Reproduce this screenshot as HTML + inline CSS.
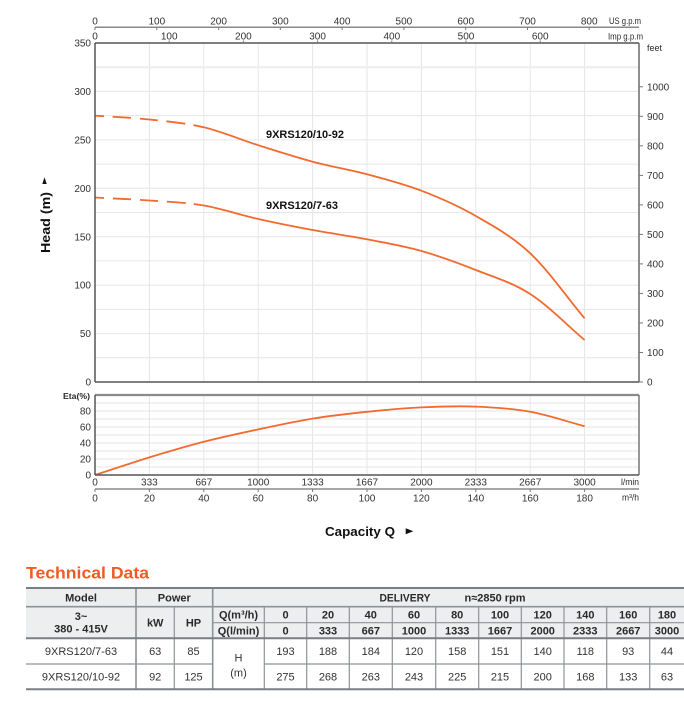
<!DOCTYPE html>
<html><head><meta charset="utf-8">
<style>
html,body{margin:0;padding:0;background:#fff;width:684px;height:718px;overflow:hidden}
svg{display:block}
text{font-family:"Liberation Sans",sans-serif;fill:#2a2a2a}
.t{font-size:10px;fill:#333}
.b{font-weight:bold}
</style></head><body>
<svg width="684" height="718" viewBox="0 0 684 718" xmlns="http://www.w3.org/2000/svg">
<!-- main grid -->
<g stroke="#e6e6e6" stroke-width="1">
<line x1="149.4" y1="43" x2="149.4" y2="382"/><line x1="203.8" y1="43" x2="203.8" y2="382"/><line x1="258.2" y1="43" x2="258.2" y2="382"/><line x1="312.6" y1="43" x2="312.6" y2="382"/><line x1="367" y1="43" x2="367" y2="382"/><line x1="421.4" y1="43" x2="421.4" y2="382"/><line x1="475.8" y1="43" x2="475.8" y2="382"/><line x1="530.2" y1="43" x2="530.2" y2="382"/><line x1="584.6" y1="43" x2="584.6" y2="382"/>
<line x1="95" y1="357.8" x2="639" y2="357.8"/><line x1="95" y1="333.6" x2="639" y2="333.6"/><line x1="95" y1="309.4" x2="639" y2="309.4"/><line x1="95" y1="285.1" x2="639" y2="285.1"/><line x1="95" y1="260.9" x2="639" y2="260.9"/><line x1="95" y1="236.7" x2="639" y2="236.7"/><line x1="95" y1="212.5" x2="639" y2="212.5"/><line x1="95" y1="188.3" x2="639" y2="188.3"/><line x1="95" y1="164.1" x2="639" y2="164.1"/><line x1="95" y1="139.9" x2="639" y2="139.9"/><line x1="95" y1="115.6" x2="639" y2="115.6"/><line x1="95" y1="91.4" x2="639" y2="91.4"/><line x1="95" y1="67.2" x2="639" y2="67.2" stroke="#eeeeee" stroke-width="2"/>
</g>
<!-- eta grid -->
<g stroke="#e6e6e6" stroke-width="1">
<line x1="149.4" y1="395" x2="149.4" y2="475"/><line x1="203.8" y1="395" x2="203.8" y2="475"/><line x1="258.2" y1="395" x2="258.2" y2="475"/><line x1="312.6" y1="395" x2="312.6" y2="475"/><line x1="367" y1="395" x2="367" y2="475"/><line x1="421.4" y1="395" x2="421.4" y2="475"/><line x1="475.8" y1="395" x2="475.8" y2="475"/><line x1="530.2" y1="395" x2="530.2" y2="475"/><line x1="584.6" y1="395" x2="584.6" y2="475"/>
<line x1="95" y1="467" x2="639" y2="467"/><line x1="95" y1="459" x2="639" y2="459"/><line x1="95" y1="451" x2="639" y2="451"/><line x1="95" y1="443" x2="639" y2="443"/><line x1="95" y1="435" x2="639" y2="435"/><line x1="95" y1="427" x2="639" y2="427"/><line x1="95" y1="419" x2="639" y2="419"/><line x1="95" y1="411" x2="639" y2="411"/><line x1="95" y1="403" x2="639" y2="403"/>
</g>
<!-- curves -->
<g fill="none" stroke="#f26a2e" stroke-width="1.8">
<path stroke-dasharray="9 8.7 18.3 9 18 8.7 19 8.3 3000" d="M95,115.6 C113.13,116.9 131.27,117.55 149.4,119.5 C167.53,121.45 185.67,123.02 203.8,127.3 C221.93,131.58 240.07,139.47 258.2,145.2 C276.33,150.93 294.47,156.85 312.6,161.7 C330.73,166.55 348.87,169.47 367,174.3 C385.13,179.13 403.27,183.75 421.4,190.7 C439.53,197.65 457.67,205.57 475.8,216 C493.93,226.43 512.07,236.25 530.2,253.3 C548.33,270.35 566.47,296.63 584.6,318.3"/>
<path stroke-dasharray="9 9 18 9 18 9 19 8 3000" d="M95,197.5 C113.13,198.5 131.27,199.17 149.4,200.5 C167.53,201.83 185.67,202.42 203.8,205.5 C221.93,208.58 240.07,214.92 258.2,219 C276.33,223.08 294.47,226.62 312.6,230 C330.73,233.38 348.87,235.8 367,239.3 C385.13,242.8 403.27,245.88 421.4,251 C439.53,256.12 457.67,262.83 475.8,270 C493.93,277.17 512.07,282.33 530.2,294 C548.33,305.67 566.47,324.67 584.6,340"/>
<path d="M95,475 C113.13,469.13 131.27,462.93 149.4,457.4 C167.53,451.87 185.67,446.47 203.8,441.8 C221.93,437.13 240.07,433.27 258.2,429.4 C276.33,425.53 294.47,421.53 312.6,418.6 C330.73,415.67 348.87,413.67 367,411.8 C385.13,409.93 403.27,408.27 421.4,407.4 C439.53,406.53 457.67,405.87 475.8,406.6 C493.93,407.33 512.07,408.53 530.2,411.8 C548.33,415.07 566.47,421.4 584.6,426.2"/>
</g>
<!-- main axes -->
<g stroke="#8a8a8a" stroke-width="1.5" fill="none">
<line x1="95" y1="27.3" x2="639" y2="27.3"/>
<line x1="95" y1="43" x2="639" y2="43" stroke="#555"/>
<line x1="95" y1="43" x2="95" y2="382" stroke="#555"/>
<line x1="639" y1="43" x2="639" y2="382" stroke="#6a6a6a"/>
<line x1="95" y1="382" x2="639" y2="382" stroke="#555"/>
<line x1="95" y1="395" x2="639" y2="395" stroke="#8a8a8a" stroke-width="2.2"/>
<line x1="95" y1="395" x2="95" y2="475" stroke="#555"/>
<line x1="639" y1="395" x2="639" y2="475" stroke="#777"/>
<line x1="95" y1="475" x2="639" y2="475" stroke="#555"/>
<line x1="95" y1="489" x2="639" y2="489" stroke="#8a8a8a"/>
</g>
<g stroke="#777" stroke-width="1">
<line x1="95" y1="27" x2="95" y2="30"/><line x1="156.8" y1="27" x2="156.8" y2="30"/><line x1="218.6" y1="27" x2="218.6" y2="30"/><line x1="280.3" y1="27" x2="280.3" y2="30"/><line x1="342.1" y1="27" x2="342.1" y2="30"/><line x1="403.9" y1="27" x2="403.9" y2="30"/><line x1="465.7" y1="27" x2="465.7" y2="30"/><line x1="527.5" y1="27" x2="527.5" y2="30"/><line x1="589.2" y1="27" x2="589.2" y2="30"/>
<line x1="169.2" y1="40.5" x2="169.2" y2="43"/><line x1="243.4" y1="40.5" x2="243.4" y2="43"/><line x1="317.6" y1="40.5" x2="317.6" y2="43"/><line x1="391.8" y1="40.5" x2="391.8" y2="43"/><line x1="466" y1="40.5" x2="466" y2="43"/><line x1="540.2" y1="40.5" x2="540.2" y2="43"/>
<line x1="639" y1="382" x2="643" y2="382"/><line x1="639" y1="352.5" x2="643" y2="352.5"/><line x1="639" y1="323" x2="643" y2="323"/><line x1="639" y1="293.4" x2="643" y2="293.4"/><line x1="639" y1="263.9" x2="643" y2="263.9"/><line x1="639" y1="234.4" x2="643" y2="234.4"/><line x1="639" y1="204.9" x2="643" y2="204.9"/><line x1="639" y1="175.4" x2="643" y2="175.4"/><line x1="639" y1="145.8" x2="643" y2="145.8"/><line x1="639" y1="116.3" x2="643" y2="116.3"/><line x1="639" y1="86.8" x2="643" y2="86.8"/>
<line x1="95" y1="489" x2="95" y2="492"/><line x1="149.4" y1="489" x2="149.4" y2="492"/><line x1="203.8" y1="489" x2="203.8" y2="492"/><line x1="258.2" y1="489" x2="258.2" y2="492"/><line x1="312.6" y1="489" x2="312.6" y2="492"/><line x1="367" y1="489" x2="367" y2="492"/><line x1="421.4" y1="489" x2="421.4" y2="492"/><line x1="475.8" y1="489" x2="475.8" y2="492"/><line x1="530.2" y1="489" x2="530.2" y2="492"/><line x1="584.6" y1="489" x2="584.6" y2="492"/>
</g>
<!-- top labels -->
<g class="t" text-anchor="middle">
<text x="95" y="24.3" class="t">0</text><text x="156.8" y="24.3" class="t">100</text><text x="218.6" y="24.3" class="t">200</text><text x="280.3" y="24.3" class="t">300</text><text x="342.1" y="24.3" class="t">400</text><text x="403.9" y="24.3" class="t">500</text><text x="465.7" y="24.3" class="t">600</text><text x="527.5" y="24.3" class="t">700</text><text x="589.2" y="24.3" class="t">800</text>
<text x="95" y="39.6" class="t">0</text><text x="169.2" y="39.6" class="t">100</text><text x="243.4" y="39.6" class="t">200</text><text x="317.6" y="39.6" class="t">300</text><text x="391.8" y="39.6" class="t">400</text><text x="466" y="39.6" class="t">500</text><text x="540.2" y="39.6" class="t">600</text>
</g>
<text x="609" y="24" style="font-size:9px" textLength="32" lengthAdjust="spacingAndGlyphs">US g.p.m</text>
<text x="608" y="39.5" style="font-size:9px" textLength="35" lengthAdjust="spacingAndGlyphs">Imp g.p.m</text>
<text x="647" y="51" style="font-size:9.5px" textLength="15" lengthAdjust="spacingAndGlyphs">feet</text>
<!-- left labels -->
<g class="t" text-anchor="end">
<text x="91" y="46.6" class="t">350</text><text x="91" y="95" class="t">300</text><text x="91" y="143.5" class="t">250</text><text x="91" y="191.9" class="t">200</text><text x="91" y="240.3" class="t">150</text><text x="91" y="288.7" class="t">100</text><text x="91" y="337.2" class="t">50</text><text x="91" y="385.6" class="t">0</text>
<text x="91" y="478.6" class="t">0</text><text x="91" y="462.6" class="t">20</text><text x="91" y="446.6" class="t">40</text><text x="91" y="430.6" class="t">60</text><text x="91" y="414.6" class="t">80</text>
</g>
<!-- right labels -->
<g class="t">
<text x="647" y="385.6" class="t">0</text><text x="647" y="356.1" class="t">100</text><text x="647" y="326.6" class="t">200</text><text x="647" y="297" class="t">300</text><text x="647" y="267.5" class="t">400</text><text x="647" y="238" class="t">500</text><text x="647" y="208.5" class="t">600</text><text x="647" y="179" class="t">700</text><text x="647" y="149.4" class="t">800</text><text x="647" y="119.9" class="t">900</text><text x="647" y="90.4" class="t">1000</text>
</g>
<text x="63" y="399" class="b" style="font-size:8.5px" textLength="27" lengthAdjust="spacingAndGlyphs">Eta(%)</text>
<!-- bottom labels -->
<g text-anchor="middle">
<text x="95" y="485.3" class="t">0</text><text x="149.4" y="485.3" class="t">333</text><text x="203.8" y="485.3" class="t">667</text><text x="258.2" y="485.3" class="t">1000</text><text x="312.6" y="485.3" class="t">1333</text><text x="367" y="485.3" class="t">1667</text><text x="421.4" y="485.3" class="t">2000</text><text x="475.8" y="485.3" class="t">2333</text><text x="530.2" y="485.3" class="t">2667</text><text x="584.6" y="485.3" class="t">3000</text>
<text x="95" y="501.6" class="t">0</text><text x="149.4" y="501.6" class="t">20</text><text x="203.8" y="501.6" class="t">40</text><text x="258.2" y="501.6" class="t">60</text><text x="312.6" y="501.6" class="t">80</text><text x="367" y="501.6" class="t">100</text><text x="421.4" y="501.6" class="t">120</text><text x="475.8" y="501.6" class="t">140</text><text x="530.2" y="501.6" class="t">160</text><text x="584.6" y="501.6" class="t">180</text>
</g>
<text x="621" y="485" style="font-size:9px" textLength="18" lengthAdjust="spacingAndGlyphs">l/min</text>
<text x="622" y="500.5" style="font-size:9px" textLength="17" lengthAdjust="spacingAndGlyphs">m³/h</text>
<!-- titles -->
<text x="325" y="536" class="b" style="font-size:13px;fill:#111" textLength="70" lengthAdjust="spacingAndGlyphs">Capacity Q</text>
<polygon points="405.7,528.3 405.7,534.2 413.3,531.2" fill="#111"/>
<text transform="translate(50,253) rotate(-90)" class="b" style="font-size:13px;fill:#111" textLength="61" lengthAdjust="spacingAndGlyphs">Head (m)</text>
<polygon points="42.3,184 46.7,184 44.5,177.3" fill="#111"/>
<text x="266" y="137.8" class="b" style="font-size:11px;fill:#111" textLength="78" lengthAdjust="spacingAndGlyphs">9XRS120/10-92</text>
<text x="266" y="208.8" class="b" style="font-size:11px;fill:#111" textLength="72" lengthAdjust="spacingAndGlyphs">9XRS120/7-63</text>
<!-- Technical data -->
<text x="26" y="578.5" class="b" style="font-size:17px;fill:#f15a24" textLength="123" lengthAdjust="spacingAndGlyphs">Technical Data</text>
<rect x="26" y="588" width="660" height="50.3" fill="#eceef0"/>
<g stroke="#8e9398" stroke-width="1.2">
<line x1="26" y1="606.7" x2="684" y2="606.7" stroke-width="1.6"/>
<line x1="212.7" y1="622.7" x2="684" y2="622.7"/>
<line x1="26" y1="664" x2="212.7" y2="664"/>
<line x1="264.3" y1="664" x2="684" y2="664"/>
<line x1="136" y1="588" x2="136" y2="689.3" stroke-width="1.6"/>
<line x1="212.7" y1="588" x2="212.7" y2="689.3" stroke-width="1.6"/>
<line x1="174.3" y1="606.7" x2="174.3" y2="689.3"/>
<line x1="264.3" y1="606.7" x2="264.3" y2="689.3"/>
<line x1="306.7" y1="606.7" x2="306.7" y2="689.3"/><line x1="349.3" y1="606.7" x2="349.3" y2="689.3"/><line x1="392.3" y1="606.7" x2="392.3" y2="689.3"/><line x1="435.7" y1="606.7" x2="435.7" y2="689.3"/><line x1="478.7" y1="606.7" x2="478.7" y2="689.3"/><line x1="521.3" y1="606.7" x2="521.3" y2="689.3"/><line x1="564" y1="606.7" x2="564" y2="689.3"/><line x1="606.7" y1="606.7" x2="606.7" y2="689.3"/><line x1="649.7" y1="606.7" x2="649.7" y2="689.3"/>
<line x1="26" y1="588" x2="684" y2="588" stroke="#7a7f85" stroke-width="2"/>
<line x1="26" y1="638.3" x2="684" y2="638.3" stroke="#7a7f85" stroke-width="2"/>
<line x1="26" y1="689.3" x2="684" y2="689.3" stroke="#7a7f85" stroke-width="2"/>
</g>
<g text-anchor="middle" style="font-size:11px">
<text x="81" y="601.5" class="b">Model</text>
<text x="174.3" y="601.5" class="b">Power</text>
<text x="405" y="601.5" class="b" textLength="51" lengthAdjust="spacingAndGlyphs">DELIVERY</text>
<text x="495" y="601.5" class="b" textLength="61" lengthAdjust="spacingAndGlyphs">n≈2850 rpm</text>
<text x="81" y="620" class="b">3~</text>
<text x="81" y="632.3" class="b">380 - 415V</text>
<text x="155.2" y="626.5" class="b">kW</text>
<text x="193.5" y="626.5" class="b">HP</text>
<text x="238.5" y="618.7" class="b">Q(m³/h)</text>
<text x="238.5" y="634.5" class="b">Q(l/min)</text>
<text x="285.5" y="618.7" class="b">0</text><text x="328" y="618.7" class="b">20</text><text x="370.8" y="618.7" class="b">40</text><text x="414" y="618.7" class="b">60</text><text x="457.2" y="618.7" class="b">80</text><text x="500" y="618.7" class="b">100</text><text x="542.7" y="618.7" class="b">120</text><text x="585.3" y="618.7" class="b">140</text><text x="628.2" y="618.7" class="b">160</text><text x="667" y="618.7" class="b">180</text>
<text x="285.5" y="634.5" class="b">0</text><text x="328" y="634.5" class="b">333</text><text x="370.8" y="634.5" class="b">667</text><text x="414" y="634.5" class="b">1000</text><text x="457.2" y="634.5" class="b">1333</text><text x="500" y="634.5" class="b">1667</text><text x="542.7" y="634.5" class="b">2000</text><text x="585.3" y="634.5" class="b">2333</text><text x="628.2" y="634.5" class="b">2667</text><text x="667" y="634.5" class="b">3000</text>
<text x="81" y="655" style="fill:#333">9XRS120/7-63</text>
<text x="155.2" y="655" style="fill:#333">63</text><text x="193.5" y="655" style="fill:#333">85</text>
<text x="285.5" y="655" style="fill:#333">193</text><text x="328" y="655" style="fill:#333">188</text><text x="370.8" y="655" style="fill:#333">184</text><text x="414" y="655" style="fill:#333">120</text><text x="457.2" y="655" style="fill:#333">158</text><text x="500" y="655" style="fill:#333">151</text><text x="542.7" y="655" style="fill:#333">140</text><text x="585.3" y="655" style="fill:#333">118</text><text x="628.2" y="655" style="fill:#333">93</text><text x="667" y="655" style="fill:#333">44</text>
<text x="81" y="680.5" style="fill:#333">9XRS120/10-92</text>
<text x="155.2" y="680.5" style="fill:#333">92</text><text x="193.5" y="680.5" style="fill:#333">125</text>
<text x="285.5" y="680.5" style="fill:#333">275</text><text x="328" y="680.5" style="fill:#333">268</text><text x="370.8" y="680.5" style="fill:#333">263</text><text x="414" y="680.5" style="fill:#333">243</text><text x="457.2" y="680.5" style="fill:#333">225</text><text x="500" y="680.5" style="fill:#333">215</text><text x="542.7" y="680.5" style="fill:#333">200</text><text x="585.3" y="680.5" style="fill:#333">168</text><text x="628.2" y="680.5" style="fill:#333">133</text><text x="667" y="680.5" style="fill:#333">63</text>
<text x="238.5" y="661.3" style="fill:#333">H</text>
<text x="238.5" y="676.7" style="fill:#333">(m)</text>
</g>
</svg>
</body></html>
